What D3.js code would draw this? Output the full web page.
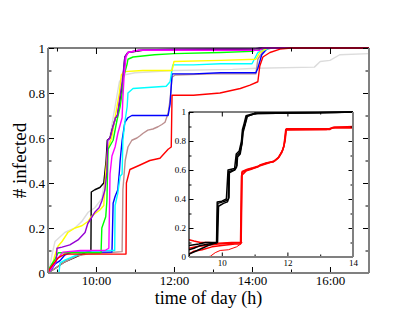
<!DOCTYPE html>
<html>
<head>
<meta charset="utf-8">
<script src="https://cdn.jsdelivr.net/npm/d3@7"></script>
<style>
  body { margin: 0; background: #fff; }
  svg { display: block; font-family: 'Liberation Serif', 'Times New Roman', serif; }
</style>
</head>
<body>
<div id="chart"></div>
<script>
const width = 415;
const height = 321;

// main panel ticks
const xMajor = [10, 12, 14, 16];
const xMajorLabels = ['10:00', '12:00', '14:00', '16:00'];
const xMinor = [9, 11, 13, 15, 17];
const yMajor = [0, 0.2, 0.4, 0.6, 0.8, 1];
const yMajorLabels = ['0', '0.2', '0.4', '0.6', '0.8', '1'];
const yMinor = [0.1, 0.3, 0.5, 0.7, 0.9];

// inset ticks
const insetXMajor = [10, 12, 14];
const insetXMinor = [9, 11, 13];

// main panel series: [hour of day, fraction infected]
const grey = [[8.77,0],[8.82,0.03],[8.87,0.08],[8.95,0.14],[9.2,0.18],[9.46,0.2],[9.64,0.23],[9.8,0.27],[9.97,0.29],[10.15,0.33],[10.25,0.45],[10.35,0.6],[10.45,0.7],[10.6,0.85],[10.72,0.88],[11,0.89],[12,0.9],[13.5,0.905],[14.1,0.91],[15.6,0.915],[15.75,0.94],[16,0.945],[16.25,0.97],[17,0.975]];
const black = [[8.77,0],[8.95,0.02],[9.2,0.05],[9.46,0.07],[9.72,0.09],[9.87,0.095],[9.88,0.36],[9.97,0.37],[10.1,0.38],[10.2,0.4],[10.26,0.5],[10.29,0.59],[10.36,0.6],[10.42,0.64],[10.5,0.69],[10.55,0.7],[10.68,0.84],[10.74,0.96],[10.82,0.98],[11.2,0.99],[14.2,0.995],[14.5,1],[17,1]];
const brown = [[8.77,0],[8.95,0.02],[9.2,0.05],[9.5,0.075],[9.8,0.085],[10.3,0.09],[10.67,0.095],[10.69,0.37],[10.75,0.5],[10.82,0.56],[10.92,0.59],[11.05,0.6],[11.13,0.61],[11.2,0.62],[11.33,0.635],[11.46,0.64],[11.59,0.65],[11.69,0.66],[11.77,0.67],[11.85,0.71],[11.9,0.77],[11.95,0.87],[12.03,0.88],[13,0.885],[14.1,0.885],[14.15,0.95],[14.3,0.99],[14.5,1],[17,1]];
const blue = [[8.77,0],[8.87,0.02],[8.95,0.04],[9.08,0.055],[9.2,0.08],[9.38,0.093],[10.41,0.093],[10.44,0.31],[10.49,0.34],[10.56,0.37],[10.6,0.45],[10.62,0.5],[10.67,0.59],[10.74,0.67],[10.82,0.69],[10.92,0.7],[11.85,0.7],[11.9,0.75],[11.95,0.885],[12.5,0.885],[13.2,0.89],[14.1,0.89],[14.15,0.91],[14.25,0.97],[14.4,1],[17,1]];
const cyan = [[8.77,0],[9.05,0],[9.08,0.045],[9.2,0.057],[9.65,0.09],[10.3,0.1],[10.48,0.1],[10.49,0.3],[10.56,0.355],[10.62,0.43],[10.67,0.44],[10.69,0.59],[10.74,0.67],[10.8,0.74],[10.82,0.8],[10.95,0.82],[11.8,0.83],[11.9,0.85],[11.97,0.925],[12.5,0.925],[13.2,0.93],[14,0.93],[14.15,0.98],[14.3,0.99],[14.45,1],[17,1]];
const yellow = [[8.77,0],[8.87,0.03],[8.95,0.08],[9.03,0.12],[9.13,0.14],[9.28,0.18],[9.46,0.2],[9.64,0.21],[9.8,0.23],[9.87,0.25],[10.1,0.28],[10.2,0.3],[10.25,0.45],[10.3,0.55],[10.4,0.6],[10.5,0.7],[10.6,0.8],[10.65,0.88],[10.72,0.895],[11.2,0.9],[11.95,0.9],[12,0.94],[13.2,0.945],[14.1,0.95],[14.2,0.98],[14.4,1],[17,1]];
const green = [[8.77,0.01],[8.87,0.04],[8.95,0.06],[9.03,0.09],[9.5,0.09],[10.13,0.09],[10.15,0.2],[10.25,0.25],[10.28,0.32],[10.31,0.55],[10.44,0.59],[10.54,0.68],[10.62,0.74],[10.67,0.8],[10.69,0.86],[10.8,0.93],[10.82,0.95],[10.95,0.96],[11.5,0.97],[12,0.975],[13.2,0.98],[14,0.985],[14.2,1],[17,1]];
const red = [[8.77,0],[8.82,0.02],[9.03,0.067],[9.2,0.084],[10.77,0.084],[10.78,0.4],[10.87,0.46],[11.13,0.48],[11.38,0.5],[11.64,0.51],[11.85,0.55],[11.93,0.56],[11.95,0.79],[12.5,0.79],[13.18,0.8],[13.7,0.82],[13.95,0.835],[14.15,0.85],[14.2,0.92],[14.28,0.96],[14.46,0.98],[14.72,0.995],[15,1],[17,1]];
const violet = [[8.77,0],[8.87,0.03],[8.98,0.05],[9,0.11],[9.13,0.115],[9.33,0.125],[9.54,0.147],[9.72,0.18],[9.79,0.22],[9.9,0.25],[9.97,0.27],[10.08,0.29],[10.15,0.32],[10.23,0.37],[10.28,0.45],[10.3,0.59],[10.36,0.6],[10.42,0.64],[10.5,0.69],[10.55,0.7],[10.68,0.86],[10.74,0.96],[10.82,0.98],[11.1,0.99],[12,0.995],[14.1,0.997],[14.2,1],[17,1]];
const magenta = [[8.77,0],[8.9,0.03],[9,0.06],[9.15,0.093],[9.6,0.1],[10.23,0.1],[10.33,0.11],[10.36,0.44],[10.41,0.52],[10.49,0.56],[10.56,0.62],[10.67,0.69],[10.69,0.78],[10.72,0.87],[10.77,0.96],[10.82,0.98],[11.1,0.99],[14.2,0.99],[14.28,1],[17,1]];

// inset series
const insetRedA = [[9,0.06],[9.2,0.07],[9.5,0.08],[9.9,0.09],[10.3,0.095],[10.58,0.1],[10.61,0.58],[10.76,0.6],[10.92,0.61],[11.1,0.62],[11.16,0.635],[11.37,0.65],[11.56,0.655],[11.71,0.68],[11.83,0.72],[11.89,0.76],[11.95,0.88],[13.3,0.88],[13.4,0.895],[14,0.895]];
const insetRedB = [[9,0.02],[9.15,0.04],[9.4,0.05],[9.7,0.07],[10,0.08],[10.4,0.09],[10.57,0.09],[10.6,0.56],[10.75,0.595],[10.9,0.605],[11.12,0.625],[11.38,0.645],[11.58,0.66],[11.72,0.685],[11.84,0.73],[11.9,0.77],[11.96,0.875],[13.2,0.88],[13.35,0.89],[14,0.89]];
const insetRedC = [[9,0.12],[9.15,0.11],[9.35,0.1],[9.6,0.1],[9.9,0.095],[10.3,0.1],[10.59,0.1],[10.62,0.59],[10.78,0.605],[10.95,0.615],[11.15,0.63],[11.4,0.65],[11.6,0.66],[11.75,0.69],[11.86,0.74],[11.93,0.8],[11.97,0.885],[13.3,0.885],[13.45,0.895],[14,0.9]];
const insetRedD = [[9.5,0],[9.65,0.005],[9.8,0.03],[9.95,0.045],[10.2,0.05],[10.45,0.07],[10.58,0.09],[10.62,0.1]];
const insetBlackA = [[9,0.02],[9.2,0.04],[9.4,0.06],[9.6,0.08],[9.85,0.1],[9.88,0.37],[10.03,0.38],[10.15,0.39],[10.2,0.4],[10.21,0.59],[10.4,0.6],[10.45,0.62],[10.46,0.7],[10.55,0.72],[10.61,0.78],[10.64,0.87],[10.7,0.91],[10.76,0.97],[10.92,0.98],[11,0.99],[13,0.995],[14,1]];
const insetBlackB = [[9,0.05],[9.15,0.06],[9.35,0.08],[9.6,0.09],[9.87,0.1],[9.9,0.35],[10.05,0.37],[10.17,0.38],[10.22,0.41],[10.23,0.58],[10.38,0.6],[10.46,0.63],[10.48,0.69],[10.56,0.71],[10.62,0.79],[10.65,0.86],[10.72,0.92],[10.78,0.97],[10.95,0.985],[11.1,0.99],[13.5,0.997],[14,1]];
const insetBlackC = [[9,0.08],[9.3,0.09],[9.5,0.1],[9.84,0.1],[9.86,0.38],[10,0.385],[10.14,0.4],[10.19,0.6],[10.39,0.61],[10.44,0.71],[10.53,0.73],[10.6,0.8],[10.63,0.88],[10.68,0.92],[10.74,0.975],[10.9,0.985],[11.05,0.993],[14,1]];

const mainSeries = [
  { color: '#dcdcdc', data: grey },
  { color: '#000000', data: black },
  { color: '#bc8f8f', data: brown },
  { color: '#0000ff', data: blue },
  { color: '#00ffff', data: cyan },
  { color: '#ffff00', data: yellow },
  { color: '#00ff00', data: green },
  { color: '#9400d3', data: violet },
  { color: '#ff00ff', data: magenta },
  { color: '#ff0000', data: red }
];

const insetSeries = [
  { color: '#ff0000', width: 1.5, data: insetRedC },
  { color: '#ff0000', width: 1.5, data: insetRedB },
  { color: '#ff0000', width: 1.5, data: insetRedA },
  { color: '#ff0000', width: 1, data: insetRedD },
  { color: '#000000', width: 1.5, data: insetBlackC },
  { color: '#000000', width: 1.5, data: insetBlackB },
  { color: '#000000', width: 1.5, data: insetBlackA }
];

const svg = d3.select('#chart')
  .append('svg')
  .attr('width', width)
  .attr('height', height);

// draws the grace-style box: ticks on all four sides pointing inward
function drawFrame(g, x, y, o) {
  const [x0, x1] = x.range();
  const [y0, y1] = y.range();

  const tickAxes = [
    { axis: d3.axisBottom(x), t: 'translate(0,' + y0 + ')', vals: o.xMajor, len: o.major, labels: o.xLabels },
    { axis: d3.axisBottom(x), t: 'translate(0,' + y0 + ')', vals: o.xMinor, len: o.minor },
    { axis: d3.axisTop(x), t: 'translate(0,' + y1 + ')', vals: o.xMajor, len: o.major },
    { axis: d3.axisTop(x), t: 'translate(0,' + y1 + ')', vals: o.xMinor, len: o.minor },
    { axis: d3.axisLeft(y), t: 'translate(' + x0 + ',0)', vals: o.yMajor, len: o.major, labels: o.yLabels },
    { axis: d3.axisLeft(y), t: 'translate(' + x0 + ',0)', vals: o.yMinor, len: o.minor },
    { axis: d3.axisRight(y), t: 'translate(' + x1 + ',0)', vals: o.yMajor, len: o.major },
    { axis: d3.axisRight(y), t: 'translate(' + x1 + ',0)', vals: o.yMinor, len: o.minor }
  ];

  tickAxes.forEach((a) => {
    const ax = g.append('g')
      .attr('transform', a.t)
      .call(a.axis
        .tickValues(a.vals)
        .tickSize(-a.len)
        .tickPadding(o.pad)
        .tickFormat((d, i) => a.labels ? a.labels[i] : ''));
    ax.select('.domain').remove();
    ax.selectAll('line').attr('stroke', '#000').attr('stroke-width', 1);
    ax.selectAll('text')
      .attr('fill', '#000')
      .style('font-family', "'Liberation Serif', 'Times New Roman', serif")
      .style('font-size', o.font + 'px');
    // drop empty labels so they take no room
    ax.selectAll('text').filter(function () { return this.textContent === ''; }).remove();
  });

  g.append('line').attr('x1', x0).attr('x2', x1).attr('y1', y1).attr('y2', y1)
    .attr('stroke', '#000').attr('stroke-width', 1.2);
  g.append('line').attr('x1', x0).attr('x2', x0).attr('y1', y1).attr('y2', y0)
    .attr('stroke', o.leftColor).attr('stroke-width', o.leftWidth);
  g.append('line').attr('x1', x0).attr('x2', x1).attr('y1', y0).attr('y2', y0)
    .attr('stroke', '#808080').attr('stroke-width', 2);
  g.append('line').attr('x1', x1).attr('x2', x1).attr('y1', y1).attr('y2', y0)
    .attr('stroke', '#808080').attr('stroke-width', 2);
}

// Main panel

const x = d3.scaleLinear().domain([8.77, 17]).range([48, 369]);
const y = d3.scaleLinear().domain([0, 1]).range([273, 48]);

svg.append('clipPath')
  .attr('id', 'clip-main')
  .append('rect')
  .attr('x', 48).attr('y', 47)
  .attr('width', 321).attr('height', 227);

const line = d3.line()
  .x((d) => x(d[0]))
  .y((d) => y(d[1]));

svg.append('g')
  .attr('clip-path', 'url(#clip-main)')
  .selectAll('path')
  .data(mainSeries)
  .enter()
  .append('path')
  .attr('d', (d) => line(d.data))
  .attr('fill', 'none')
  .attr('stroke', (d) => d.color)
  .attr('stroke-width', 1.4)
  .attr('stroke-linejoin', 'round');

drawFrame(svg.append('g'), x, y, {
  xMajor: xMajor, xMinor: xMinor, xLabels: xMajorLabels,
  yMajor: yMajor, yMinor: yMinor, yLabels: yMajorLabels,
  major: 6, minor: 3.5, pad: 3, font: 13,
  leftColor: '#808080', leftWidth: 2
});

svg.append('text')
  .attr('x', 208.5)
  .attr('y', 304)
  .attr('text-anchor', 'middle')
  .style('font-size', '18px')
  .text('time of day (h)');

svg.append('text')
  .attr('transform', 'translate(26,160.5) rotate(-90)')
  .attr('text-anchor', 'middle')
  .style('font-size', '19px')
  .text('# infected');

// Inset

const xi = d3.scaleLinear().domain([9, 14]).range([189, 353]);
const yi = d3.scaleLinear().domain([0, 1]).range([257, 112]);

svg.append('rect')
  .attr('x', 189).attr('y', 112)
  .attr('width', 164).attr('height', 145)
  .attr('fill', '#fff');

svg.append('clipPath')
  .attr('id', 'clip-inset')
  .append('rect')
  .attr('x', 189).attr('y', 111)
  .attr('width', 164).attr('height', 146);

const insetLine = d3.line()
  .x((d) => xi(d[0]))
  .y((d) => yi(d[1]));

svg.append('g')
  .attr('clip-path', 'url(#clip-inset)')
  .selectAll('path')
  .data(insetSeries)
  .enter()
  .append('path')
  .attr('d', (d) => insetLine(d.data))
  .attr('fill', 'none')
  .attr('stroke', (d) => d.color)
  .attr('stroke-width', (d) => d.width)
  .attr('stroke-linejoin', 'round');

drawFrame(svg.append('g'), xi, yi, {
  xMajor: insetXMajor, xMinor: insetXMinor, xLabels: insetXMajor.map(String),
  yMajor: yMajor, yMinor: yMinor, yLabels: yMajorLabels,
  major: 4.5, minor: 2.5, pad: 3, font: 9,
  leftColor: '#000', leftWidth: 1.2
});
</script>
</body>
</html>
